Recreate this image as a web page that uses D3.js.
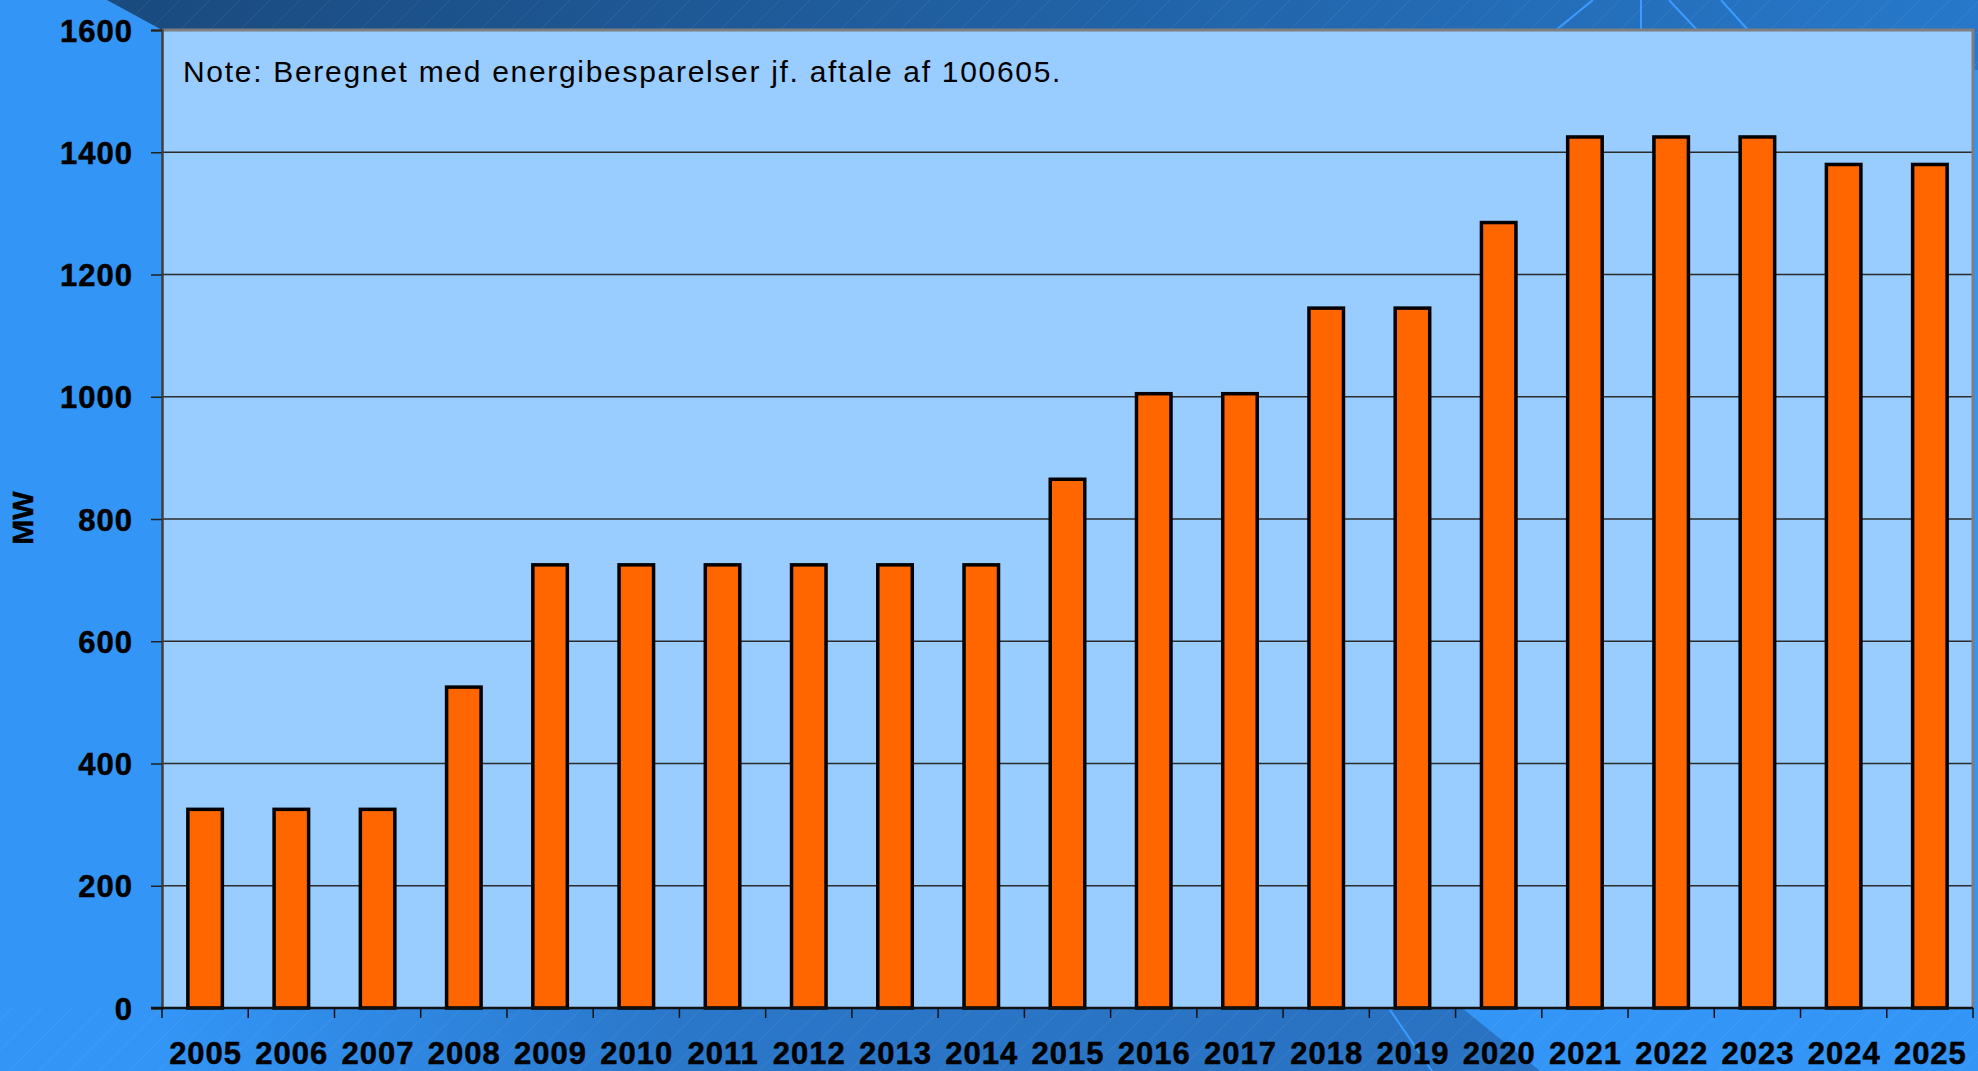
<!DOCTYPE html>
<html>
<head>
<meta charset="utf-8">
<script src="https://cdn.jsdelivr.net/npm/d3@7"></script>
<style>
  body { margin: 0; overflow: hidden; background: #3395f6; }
  svg { display: block; }
  text { font-family: "Liberation Sans", Arial, sans-serif; }
</style>
</head>
<body>
<div id="chart"></div>
<script>
// years on the x axis
const years = ["2005", "2006", "2007", "2008", "2009", "2010", "2011", "2012", "2013", "2014",
  "2015", "2016", "2017", "2018", "2019", "2020", "2021", "2022", "2023", "2024", "2025"];
// capacity, MW
const values = [325, 325, 325, 525, 725, 725, 725, 725, 725, 725,
  865, 1005, 1005, 1145, 1145, 1285, 1425, 1425, 1425, 1380, 1380];
const yTicks = [0, 200, 400, 600, 800, 1000, 1200, 1400, 1600];
const noteText = "Note: Beregnet med energibesparelser jf. aftale af 100605.";
const yTitle = "MW";

const width = 1978, height = 1071;
const margin = { top: 30, right: 5, bottom: 63, left: 162 };
const plotW = width - margin.left - margin.right;
const plotH = height - margin.top - margin.bottom;

const svg = d3.select("#chart").append("svg")
  .attr("width", width)
  .attr("height", height);

const defs = svg.append("defs");

// gradients for the slide background
const topGrad = defs.append("linearGradient").attr("id", "topGrad");
topGrad.append("stop").attr("offset", "0%").attr("stop-color", "#1a4a7e");
topGrad.append("stop").attr("offset", "100%").attr("stop-color", "#2778ca");

const botGrad = defs.append("linearGradient").attr("id", "botGrad")
  .attr("gradientUnits", "userSpaceOnUse")
  .attr("x1", 162).attr("x2", 1500).attr("y1", 0).attr("y2", 0);
botGrad.append("stop").attr("offset", "0%").attr("stop-color", "#3395f6");
botGrad.append("stop").attr("offset", "40%").attr("stop-color", "#2a76c8");
botGrad.append("stop").attr("offset", "100%").attr("stop-color", "#2a72c2");

// faint diagonal hatching
const hatch = defs.append("pattern").attr("id", "hatch")
  .attr("patternUnits", "userSpaceOnUse")
  .attr("width", 30).attr("height", 30);
hatch.append("path").attr("d", "M-5,35 L35,-5 M-5,5 L5,-5 M25,35 L35,25")
  .attr("stroke", "#ffffff").attr("stroke-opacity", 0.07).attr("stroke-width", 1);

// background
svg.append("rect").attr("width", width).attr("height", height).attr("fill", "#3395f6");
svg.append("path")
  .attr("d", `M107,0 L${width},0 L${width},${margin.top + 40} L162,${margin.top + 40} L162,30 Z`)
  .attr("fill", "url(#topGrad)");
svg.append("path")
  .attr("d", `M107,0 L${width},0 L${width},${margin.top + 40} L162,${margin.top + 40} L162,30 Z`)
  .attr("fill", "url(#hatch)");
svg.append("path")
  .attr("d", `M162,1008 L1462,1008 L1540,${height} L162,${height} Z`)
  .attr("fill", "url(#botGrad)");
svg.append("rect").attr("x", 0).attr("y", 1008).attr("width", width).attr("height", 63)
  .attr("fill", "url(#hatch)");

// decorative thin lines
const deco = svg.append("g").attr("stroke", "#3a9cff").attr("stroke-width", 2);
deco.append("line").attr("x1", 1593).attr("y1", 0).attr("x2", 1556).attr("y2", 30);
deco.append("line").attr("x1", 1641).attr("y1", 0).attr("x2", 1641).attr("y2", 30);
deco.append("line").attr("x1", 1669).attr("y1", 0).attr("x2", 1697).attr("y2", 30);
deco.append("line").attr("x1", 1721).attr("y1", 0).attr("x2", 1748).attr("y2", 30);
deco.append("line").attr("x1", 1390).attr("y1", 1010).attr("x2", 1432).attr("y2", height);

// scales
const x = d3.scaleBand()
  .domain(years)
  .range([margin.left, margin.left + plotW])
  .paddingInner(0.6)
  .paddingOuter(0.3);
const xEdge = d3.scaleBand()
  .domain(years)
  .range([margin.left, margin.left + plotW]);
const y = d3.scaleLinear()
  .domain([0, 1600])
  .range([margin.top + plotH, margin.top]);

// plot area
svg.append("rect")
  .attr("x", margin.left).attr("y", margin.top)
  .attr("width", plotW).attr("height", plotH)
  .attr("fill", "#99ccff");

// gridlines
svg.append("g")
  .selectAll("line")
  .data(yTicks.filter(d => d > 0 && d < 1600))
  .join("line")
  .attr("x1", margin.left).attr("x2", margin.left + plotW)
  .attr("y1", d => y(d)).attr("y2", d => y(d))
  .attr("stroke", "#2b2b2b").attr("stroke-width", 1.5);

// plot border (top / right)
svg.append("path")
  .attr("d", `M${margin.left},${margin.top} L${margin.left + plotW},${margin.top} L${margin.left + plotW},${margin.top + plotH}`)
  .attr("fill", "none").attr("stroke", "#7f7f7f").attr("stroke-width", 3);

// bars
svg.append("g")
  .selectAll("rect")
  .data(values)
  .join("rect")
  .attr("x", (d, i) => x(years[i]))
  .attr("y", d => y(d))
  .attr("width", x.bandwidth())
  .attr("height", d => y(0) - y(d))
  .attr("fill", "#ff6600")
  .attr("stroke", "#000000")
  .attr("stroke-width", 3.5);

// y axis
const yAxis = d3.axisLeft(y).tickValues(yTicks).tickFormat(d3.format("d"))
  .tickSize(11).tickPadding(18);
const yG = svg.append("g")
  .attr("transform", `translate(${margin.left},0)`)
  .call(yAxis);
yG.select(".domain").attr("stroke", "#404040").attr("stroke-width", 2.5);
yG.selectAll(".tick line").attr("stroke", "#222").attr("stroke-width", 1.5);
yG.selectAll(".tick text")
  .attr("font-size", 31).attr("font-weight", "bold")
  .attr("letter-spacing", 1)
  .attr("fill", "#000")
  .attr("stroke", "#000").attr("stroke-width", 0.5)
  .attr("dy", "0.36em");

// x axis (ticks on category boundaries)
const xG = svg.append("g");
xG.append("line")
  .attr("x1", margin.left - 11).attr("x2", margin.left + plotW)
  .attr("y1", y(0)).attr("y2", y(0))
  .attr("stroke", "#111").attr("stroke-width", 2.5);
xG.selectAll(".xt")
  .data(years.concat(["end"]))
  .join("line")
  .attr("class", "xt")
  .attr("x1", (d, i) => i < years.length ? xEdge(d) : margin.left + plotW)
  .attr("x2", (d, i) => i < years.length ? xEdge(d) : margin.left + plotW)
  .attr("y1", y(0)).attr("y2", y(0) + 10)
  .attr("stroke", "#111").attr("stroke-width", 1.5);
xG.selectAll(".xl")
  .data(years)
  .join("text")
  .attr("class", "xl")
  .attr("x", d => x(d) + x.bandwidth() / 2 + 0.5)
  .attr("y", 1064)
  .attr("text-anchor", "middle")
  .attr("font-size", 31).attr("font-weight", "bold")
  .attr("letter-spacing", 1)
  .attr("stroke", "#000").attr("stroke-width", 0.5)
  .text(d => d);

// axis title
svg.append("text")
  .attr("transform", `translate(33,518) rotate(-90)`)
  .attr("text-anchor", "middle")
  .attr("font-size", 30).attr("font-weight", "bold")
  .attr("stroke", "#000").attr("stroke-width", 0.5)
  .text(yTitle);

// note
svg.append("text")
  .attr("x", 183).attr("y", 82)
  .attr("font-size", 30)
  .attr("letter-spacing", 1.7)
  .text(noteText);
</script>
</body>
</html>
